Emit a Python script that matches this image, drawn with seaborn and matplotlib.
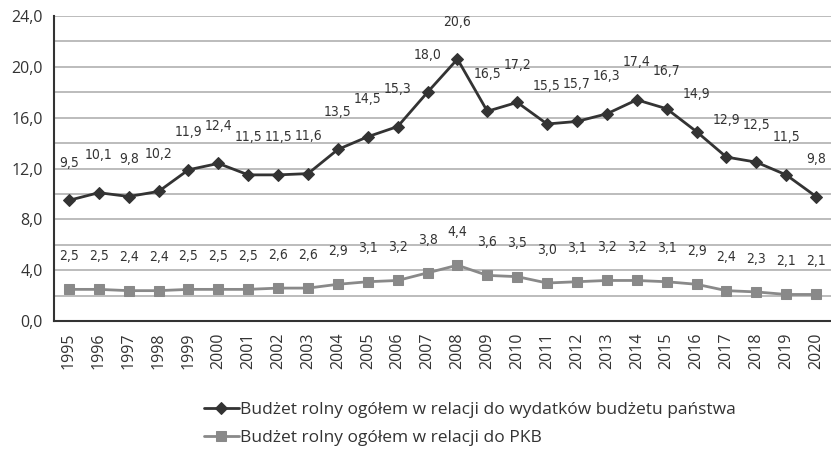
import matplotlib
matplotlib.use("Agg")
import matplotlib.pyplot as plt
import seaborn as sns
import pandas as pd
from matplotlib.ticker import MultipleLocator, FuncFormatter

years = list(range(1995, 2021))
budzet_wydatki = [9.5, 10.1, 9.8, 10.2, 11.9, 12.4, 11.5, 11.5, 11.6, 13.5, 14.5, 15.3, 18.0,
                  20.6, 16.5, 17.2, 15.5, 15.7, 16.3, 17.4, 16.7, 14.9, 12.9, 12.5, 11.5, 9.8]
budzet_pkb = [2.5, 2.5, 2.4, 2.4, 2.5, 2.5, 2.5, 2.6, 2.6, 2.9, 3.1, 3.2, 3.8,
              4.4, 3.6, 3.5, 3.0, 3.1, 3.2, 3.2, 3.1, 2.9, 2.4, 2.3, 2.1, 2.1]
name1 = "Budżet rolny ogółem w relacji do wydatków budżetu państwa"
name2 = "Budżet rolny ogółem w relacji do PKB"

sns.set_style("white")
plt.rcParams['font.family'] = ['Open Sans', 'DejaVu Sans']

fig = plt.figure(figsize=(8.31, 4.53), dpi=100)
ax = fig.add_axes([0.065, 0.291, 0.935, 0.674])

df = pd.DataFrame({"year": years, name1: budzet_wydatki, name2: budzet_pkb})
c1, c2 = "#333333", "#898989"
sns.lineplot(data=df, x="year", y=name1, ax=ax, color=c1, marker="D", markersize=6,
             linewidth=2.0, markeredgecolor=c1, label=name1)
sns.lineplot(data=df, x="year", y=name2, ax=ax, color=c2, marker="s", markersize=7,
             linewidth=2.0, markeredgecolor=c2, label=name2)

fmt = lambda v: f"{v:.1f}".replace(".", ",")
for x, v in zip(years, budzet_wydatki):
    ax.annotate(fmt(v), (x, v), xytext=(0, 27), textcoords="offset points", ha="center",
                va="center", fontsize=10, color="#333333", family="DejaVu Sans",
                fontstretch="condensed")
for x, v in zip(years, budzet_pkb):
    ax.annotate(fmt(v), (x, v), xytext=(0, 24), textcoords="offset points", ha="center",
                va="center", fontsize=10, color="#333333", family="DejaVu Sans",
                fontstretch="condensed")

ax.set_xlim(1994.5, 2020.5)
ax.set_ylim(0, 24)
ax.yaxis.set_major_locator(MultipleLocator(4))
ax.yaxis.set_minor_locator(MultipleLocator(2))
ax.yaxis.set_major_formatter(FuncFormatter(lambda v, p: fmt(v)))
ax.set_xticks(years)
ax.set_xticklabels([str(y) for y in years], rotation=90)
ax.tick_params(axis="both", labelsize=11.5, colors="#333333", length=0)
ax.tick_params(axis="y", pad=8)
ax.tick_params(axis="x", pad=8)
ax.grid(True, which="both", axis="y", color="#b0b0b0", linewidth=1.2)
ax.set_axisbelow(True)
ax.set_xlabel("")
ax.set_ylabel("")
for s in ["top", "right"]:
    ax.spines[s].set_visible(False)
for s in ["left", "bottom"]:
    ax.spines[s].set_color("#333333")
    ax.spines[s].set_linewidth(1.5)

h, l = ax.get_legend_handles_labels()
ax.get_legend().remove()
fig.legend(h, l, loc="upper left", bbox_to_anchor=(0.237, 0.128), frameon=False,
           fontsize=12.5, handlelength=2.0, handletextpad=0.1, labelspacing=0.7,
           borderaxespad=0, labelcolor="#333333")

fig.savefig("out.png", dpi=100)
